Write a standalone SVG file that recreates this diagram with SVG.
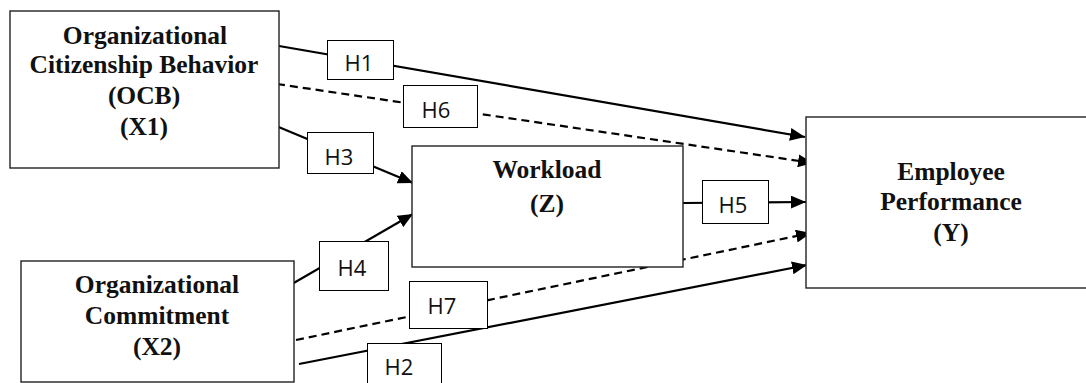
<svg xmlns="http://www.w3.org/2000/svg" width="1086" height="383" viewBox="0 0 1086 383">
  <style>
    .node { fill: #ffffff; stroke: #222222; stroke-width: 1.4; }
    .node-text { font-family: "Liberation Serif", "Times New Roman", serif; font-weight: bold; font-size: 25.5px; fill: #111111; text-anchor: middle; }
    .edge { stroke: #000000; stroke-width: 2.2; fill: none; marker-end: url(#arrow); }
    .dashed { stroke-dasharray: 8 5; }
    .tag { fill: #ffffff; stroke: #000000; stroke-width: 1; }
    .tag-text { font-family: "Open Sans", "Liberation Sans", sans-serif; font-size: 22px; fill: #111111; text-anchor: middle; }
  </style>
  <defs>
    <marker id="arrow" markerUnits="userSpaceOnUse" markerWidth="15" markerHeight="13" refX="15" refY="6.5" orient="auto">
      <path d="M0,0 L15,6.5 L0,13 z" fill="#000000"/>
    </marker>
  </defs>

  <rect width="1086" height="383" fill="#ffffff"/>

  <!-- connectors (hypothesis paths) -->
  <g id="connectors">
    <line class="edge" x1="279" y1="46" x2="805" y2="137"/>
    <line class="edge dashed" x1="277" y1="84" x2="813" y2="163"/>
    <line class="edge" x1="269" y1="123" x2="413" y2="183"/>
    <line class="edge" x1="292" y1="284" x2="413" y2="214"/>
    <line class="edge" x1="683" y1="203" x2="806" y2="202"/>
    <line class="edge dashed" x1="296" y1="340" x2="811" y2="233"/>
    <line class="edge" x1="299" y1="364" x2="807" y2="265"/>
  </g>

  <!-- hypothesis labels -->
  <g id="label-h1">
    <rect class="tag" x="327.5" y="40.5" width="66" height="39"/>
    <text class="tag-text" x="359" y="70.5">H1</text>
  </g>
  <g id="label-h6">
    <rect class="tag" x="403.5" y="85.5" width="74" height="42"/>
    <text class="tag-text" x="436" y="117.5">H6</text>
  </g>
  <g id="label-h3">
    <rect class="tag" x="307.5" y="132.5" width="66" height="41"/>
    <text class="tag-text" x="339" y="165">H3</text>
  </g>
  <g id="label-h4">
    <rect class="tag" x="319.5" y="241.5" width="69" height="49"/>
    <text class="tag-text" x="352" y="275.5">H4</text>
  </g>
  <g id="label-h5">
    <rect class="tag" x="702.5" y="180.5" width="66" height="43"/>
    <text class="tag-text" x="733" y="213">H5</text>
  </g>
  <g id="label-h7">
    <rect class="tag" x="409.5" y="281.5" width="78" height="47"/>
    <text class="tag-text" x="442" y="313.5">H7</text>
  </g>
  <g id="label-h2">
    <rect class="tag" x="367.5" y="343.5" width="74" height="48"/>
    <text class="tag-text" x="399" y="375">H2</text>
  </g>

  <!-- variables -->
  <g id="node-x1">
    <rect class="node" x="10" y="11" width="269" height="157"/>
    <text class="node-text" x="145" y="44">Organizational</text>
    <text class="node-text" x="144" y="73">Citizenship Behavior</text>
    <text class="node-text" x="144" y="104">(OCB)</text>
    <text class="node-text" x="144" y="135">(X1)</text>
  </g>
  <g id="node-z">
    <rect class="node" x="412" y="146" width="271" height="121"/>
    <text class="node-text" x="547" y="178">Workload</text>
    <text class="node-text" x="547" y="212">(Z)</text>
  </g>
  <g id="node-x2">
    <rect class="node" x="21" y="261" width="273" height="121"/>
    <text class="node-text" x="157" y="293">Organizational</text>
    <text class="node-text" x="157" y="324">Commitment</text>
    <text class="node-text" x="157" y="355">(X2)</text>
  </g>
  <g id="node-y">
    <rect class="node" x="806" y="117" width="290" height="171"/>
    <text class="node-text" x="951" y="180">Employee</text>
    <text class="node-text" x="951" y="210">Performance</text>
    <text class="node-text" x="951" y="241">(Y)</text>
  </g>
</svg>
